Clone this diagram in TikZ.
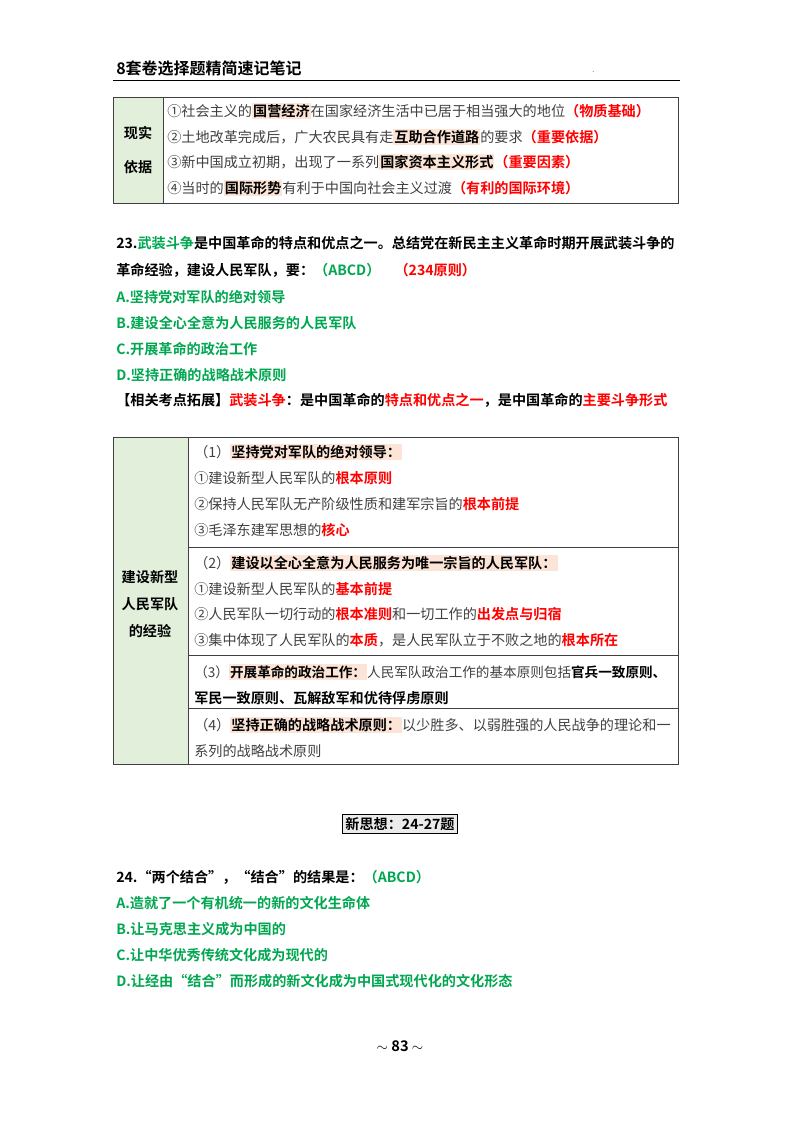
\documentclass[tikz,border=0pt]{standalone}
\usepackage{fontspec}
\setmainfont{Noto Sans CJK SC}[BoldFont={* Bold}]
\definecolor{hlc}{HTML}{FCE4D6}
\definecolor{grn}{HTML}{00A650}
\definecolor{lgrn}{HTML}{E2EFDA}
\definecolor{txt}{HTML}{404040}
\newcommand{\hlw}[1]{{\setlength{\fboxsep}{0.8pt}\colorbox{hlc}{\textcolor{black}{\textbf{#1}}}}}
\newcommand{\rd}[1]{\textcolor{red}{\textbf{#1}}}
\begin{document}
\begin{tikzpicture}[x=0.75pt,y=-0.75pt,
  t/.style={anchor=west,inner sep=0pt,font=\fontsize{10.6}{12}\selectfont},
  tb/.style={t,font=\fontsize{10.6}{12}\selectfont\bfseries},
  grid/.style={draw=black!75,line width=0.6pt}]
\useasboundingbox (0,0) rectangle (800,1132);
\node[tb,font=\fontsize{12}{13}\selectfont\bfseries] (hd) at (116,68) {8套卷选择题精简速记笔记};
\draw[line width=0.6pt] (113,80) -- (680,80);
\node[t,font=\tiny] (dot) at (592,72) {.};
% table 1
\fill[lgrn] (113,97) rectangle (163,203);
\draw[grid] (113,97) rectangle (678,203) (163,97) -- (163,203);
\node[tb,align=center,font=\fontsize{10.6}{26}\selectfont\bfseries,anchor=center] (t1l) at (138,150) {现实\\依据};
\node[t,text=txt] (r1) at (167,111) {①社会主义的\hlw{国营经济}在国家经济生活中已居于相当强大的地位\rd{（物质基础）}};
\node[t,text=txt] (r2) at (167,137) {②土地改革完成后，广大农民具有走\hlw{互助合作道路}的要求\rd{（重要依据）}};
\node[t,text=txt] (r3) at (167,162) {③新中国成立初期，出现了一系列\hlw{国家资本主义形式}\rd{（重要因素）}};
\node[t,text=txt] (r4) at (167,188) {④当时的\hlw{国际形势}有利于中国向社会主义过渡\rd{（有利的国际环境）}};
% Q23
\node[tb] (q1) at (116,243) {23.\textcolor{grn}{武装斗争}是中国革命的特点和优点之一。总结党在新民主主义革命时期开展武装斗争的};
\node[tb] (q2) at (116,270) {革命经验，建设人民军队，要：\textcolor{grn}{（ABCD）}\quad\textcolor{red}{（234原则）}};
\node[tb,text=grn] (oa) at (116,297) {A.坚持党对军队的绝对领导};
\node[tb,text=grn] (ob) at (116,323) {B.建设全心全意为人民服务的人民军队};
\node[tb,text=grn] (oc) at (116,349) {C.开展革命的政治工作};
\node[tb,text=grn] (od) at (116,375) {D.坚持正确的战略战术原则};
\node[tb] (ext) at (116,400) {【相关考点拓展】\textcolor{red}{武装斗争}：是中国革命的\textcolor{red}{特点和优点之一}，是中国革命的\textcolor{red}{主要斗争形式}};
% table 2
\fill[lgrn] (113,437) rectangle (188,764);
\draw[grid] (113,437) rectangle (678,764) (188,437) -- (188,764)
  (188,547) -- (678,547) (188,655) -- (678,655) (188,708) -- (678,708);
\node[tb,align=center,font=\fontsize{10.6}{20.5}\selectfont\bfseries,anchor=center] (t2l) at (150,604) {建设新型\\人民军队\\的经验};
\node[t,text=txt] (a1) at (194,452) {（1）\hlw{坚持党对军队的绝对领导：}};
\node[t,text=txt] (a2) at (194,478) {①建设新型人民军队的\rd{根本原则}};
\node[t,text=txt] (a3) at (194,504) {②保持人民军队无产阶级性质和建军宗旨的\rd{根本前提}};
\node[t,text=txt] (a4) at (194,530) {③毛泽东建军思想的\rd{核心}};
\node[t,text=txt] (b1) at (194,563) {（2）\hlw{建设以全心全意为人民服务为唯一宗旨的人民军队：}};
\node[t,text=txt] (b2) at (194,589) {①建设新型人民军队的\rd{基本前提}};
\node[t,text=txt] (b3) at (194,614) {②人民军队一切行动的\rd{根本准则}和一切工作的\rd{出发点与归宿}};
\node[t,text=txt] (b4) at (194,640) {③集中体现了人民军队的\rd{本质}，是人民军队立于不败之地的\rd{根本所在}};
\node[t,text=txt,font=\fontsize{10.2}{12}\selectfont] (c1) at (194,672) {（3）\hlw{开展革命的政治工作：}人民军队政治工作的基本原则包括\textbf{\textcolor{black}{官兵一致原则、}}};
\node[tb] (c2) at (194,698) {军民一致原则、瓦解敌军和优待俘虏原则};
\node[t,text=txt] (d1) at (194,725) {（4）\hlw{坚持正确的战略战术原则：}以少胜多、以弱胜强的人民战争的理论和一};
\node[t,text=txt] (d2) at (194,751) {系列的战略战术原则};
% section
\node[draw,line width=0.7pt,inner sep=2pt,font=\fontsize{10.6}{12}\selectfont\bfseries,fill=black!8] (sec) at (400,824) {新思想：24-27题};
% Q24
\node[tb] (p1) at (116,877) {24.“两个结合”，“结合”的结果是：\textcolor{grn}{（ABCD）}};
\node[tb,text=grn] (pa) at (116,903) {A.造就了一个有机统一的新的文化生命体};
\node[tb,text=grn] (pb) at (116,929) {B.让马克思主义成为中国的};
\node[tb,text=grn] (pc) at (116,955) {C.让中华优秀传统文化成为现代的};
\node[tb,text=grn] (pd) at (116,981) {D.让经由“结合”而形成的新文化成为中国式现代化的文化形态};
\node[font=\fontsize{11}{12}\selectfont\bfseries] (pg) at (400,1046) {$\sim$ 83 $\sim$};
\end{tikzpicture}
\end{document}
